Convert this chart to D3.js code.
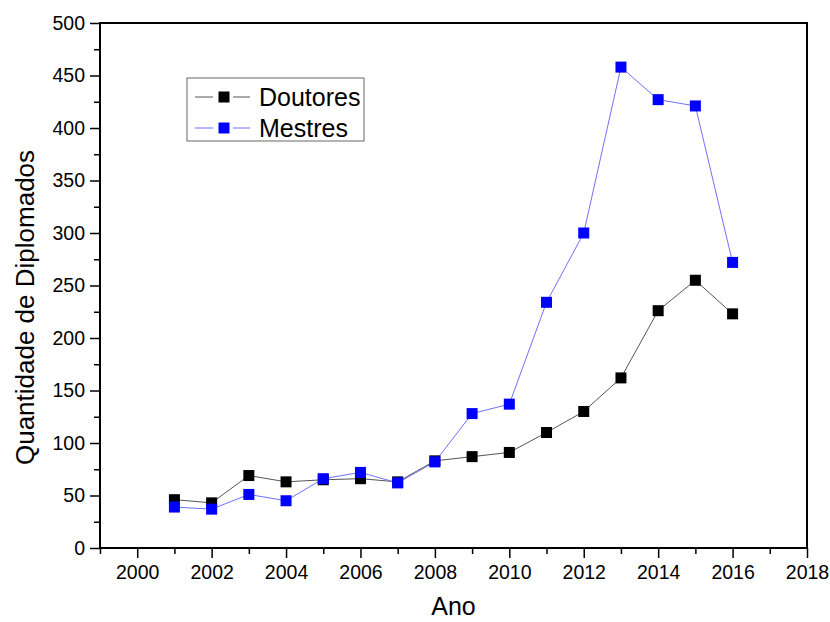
<!DOCTYPE html>
<html>
<head>
<meta charset="utf-8">
<script src="https://cdn.jsdelivr.net/npm/d3@7"></script>
<style>
  body { margin: 0; background: #fff; }
  svg { font-family: "Liberation Sans", Arial, sans-serif; display: block; }
</style>
</head>
<body>
<div id="chart"></div>
<script>
// Data
const years = [2001, 2002, 2003, 2004, 2005, 2006, 2007, 2008, 2009, 2010, 2011, 2012, 2013, 2014, 2015, 2016];
const doutores = [46, 43, 69, 63, 65, 66, 63, 83, 87, 91, 110, 130, 162, 226, 255, 223];
const mestres = [39, 37, 51, 45, 66, 72, 62, 82, 128, 137, 234, 300, 458, 427, 421, 272];
const xTicks = [2000, 2002, 2004, 2006, 2008, 2010, 2012, 2014, 2016, 2018];
const yTicks = [0, 50, 100, 150, 200, 250, 300, 350, 400, 450, 500];

const series = [
    { name: 'Doutores', values: doutores, fill: '#000000', line: '#555555' },
    { name: 'Mestres', values: mestres, fill: '#0000ff', line: '#7070ff' }
];

const W = 830, H = 622;
const margin = { top: 23, right: 23, bottom: 74, left: 100 };
const width = W - margin.left - margin.right;
const height = H - margin.top - margin.bottom;

const svg = d3.select('#chart').append('svg')
    .attr('width', W)
    .attr('height', H);

const g = svg.append('g')
    .attr('transform', `translate(${margin.left},${margin.top})`);

const x = d3.scaleLinear().domain([1999, 2018]).range([0, width]);
const y = d3.scaleLinear().domain([0, 500]).range([height, 0]);

// Minor ticks
g.append('g')
    .attr('transform', `translate(0,${height})`)
    .call(d3.axisBottom(x).tickValues(d3.range(1999, 2019, 2)).tickSize(6).tickFormat(''))
    .call(a => a.select('.domain').remove())
    .selectAll('line').attr('stroke-width', 1.5);

g.append('g')
    .call(d3.axisLeft(y).tickValues(d3.range(25, 500, 50)).tickSize(6).tickFormat(''))
    .call(a => a.select('.domain').remove())
    .selectAll('line').attr('stroke-width', 1.5);

// Major axes
const xAxis = g.append('g')
    .attr('transform', `translate(0,${height})`)
    .call(d3.axisBottom(x).tickValues(xTicks).tickSize(10).tickPadding(7).tickFormat(d3.format('d')));
xAxis.selectAll('text').attr('font-size', '19.5px').attr('fill', '#000');

const yAxis = g.append('g')
    .call(d3.axisLeft(y).tickValues(yTicks).tickSize(10).tickPadding(5));
yAxis.selectAll('text').attr('font-size', '19.5px').attr('fill', '#000');

[xAxis, yAxis].forEach(a => {
    a.selectAll('line').attr('stroke-width', 1.5);
    a.select('.domain').remove();
});

// Frame
g.append('rect')
    .attr('x', 0).attr('y', 0)
    .attr('width', width).attr('height', height)
    .attr('fill', 'none')
    .attr('stroke', '#000')
    .attr('stroke-width', 2);

// Axis titles
g.append('text')
    .attr('x', width / 2)
    .attr('y', height + 67)
    .attr('text-anchor', 'middle')
    .attr('font-size', '25px')
    .text('Ano');

g.append('text')
    .attr('transform', 'rotate(-90)')
    .attr('x', -284.5)
    .attr('y', -margin.left + 34)
    .attr('text-anchor', 'middle')
    .attr('font-size', '26px')
    .text('Quantidade de Diplomados');

// Lines and markers
const line = d3.line()
    .x((d, i) => x(years[i]))
    .y(d => y(d));

const ms = 11;
series.forEach(s => {
    g.append('path')
        .datum(s.values)
        .attr('fill', 'none')
        .attr('stroke', s.line)
        .attr('stroke-width', 1)
        .attr('d', line);
});
series.forEach(s => {
    g.selectAll(null)
        .data(s.values)
        .enter()
        .append('rect')
        .attr('x', (d, i) => x(years[i]) - ms / 2)
        .attr('y', d => y(d) - ms / 2)
        .attr('width', ms)
        .attr('height', ms)
        .attr('fill', s.fill);
});

// Legend
const legend = g.append('g')
    .attr('transform', 'translate(87, 55)');

legend.append('rect')
    .attr('x', 0).attr('y', 0)
    .attr('width', 177).attr('height', 63)
    .attr('fill', '#fff')
    .attr('stroke', '#666')
    .attr('stroke-width', 1);

series.forEach((s, i) => {
    const ly = 19 + i * 31;
    legend.append('line')
        .attr('x1', 8).attr('x2', 26)
        .attr('y1', ly).attr('y2', ly)
        .attr('stroke', s.line)
        .attr('stroke-width', 1);
    legend.append('line')
        .attr('x1', 46).attr('x2', 63)
        .attr('y1', ly).attr('y2', ly)
        .attr('stroke', s.line)
        .attr('stroke-width', 1);
    legend.append('rect')
        .attr('x', 37 - 5.5).attr('y', ly - 5.5)
        .attr('width', 11).attr('height', 11)
        .attr('fill', s.fill);
    legend.append('text')
        .attr('x', 72)
        .attr('y', ly + 9)
        .attr('font-size', '25px')
        .text(s.name);
});
</script>
</body>
</html>
